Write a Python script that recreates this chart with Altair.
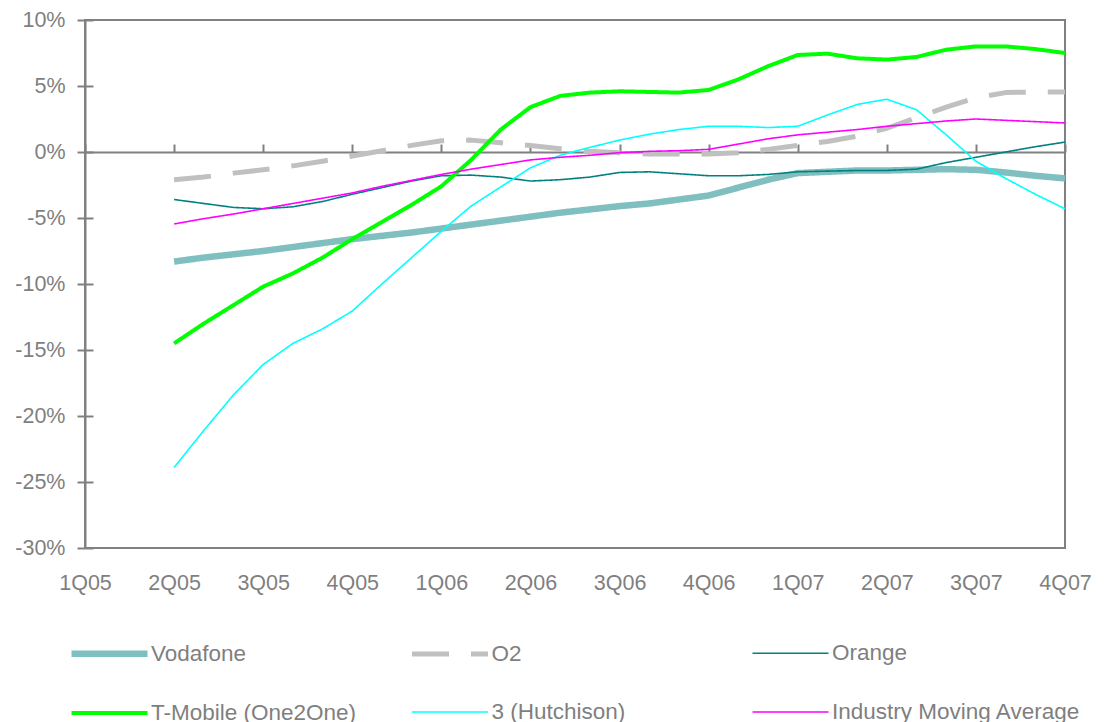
import altair as alt
import pandas as pd

# ---- data ----
quarter_labels = ["1Q05", "2Q05", "3Q05", "4Q05", "1Q06", "2Q06",
                  "3Q06", "4Q06", "1Q07", "2Q07", "3Q07", "4Q07"]

months = list(range(3, 34))  # month index, 0 = 1Q05

vodafone = [-8.3, -8.0, -7.75, -7.5, -7.2, -6.9, -6.6, -6.35, -6.1, -5.8,
            -5.5, -5.2, -4.9, -4.6, -4.35, -4.1, -3.9, -3.6, -3.3, -2.7,
            -2.1, -1.6, -1.5, -1.4, -1.4, -1.35, -1.3, -1.35, -1.55, -1.8, -2.0]

o2 = [-2.1, -1.9, -1.6, -1.35, -1.05, -0.7, -0.3, 0.1, 0.5, 0.85,
      0.9, 0.7, 0.5, 0.25, 0.05, -0.05, -0.15, -0.15, -0.15, -0.05,
      0.2, 0.5, 0.8, 1.2, 1.8, 2.6, 3.4, 4.1, 4.5, 4.55, 4.55]

orange = [-3.6, -3.9, -4.2, -4.3, -4.15, -3.75, -3.2, -2.7, -2.2, -1.8,
          -1.75, -1.9, -2.2, -2.1, -1.9, -1.55, -1.5, -1.65, -1.8, -1.8,
          -1.7, -1.5, -1.45, -1.4, -1.4, -1.3, -0.8, -0.4, 0.0, 0.4, 0.75]

tmobile = [-14.5, -13.0, -11.6, -10.2, -9.2, -8.0, -6.6, -5.3, -4.0, -2.6,
           -0.6, 1.7, 3.4, 4.25, 4.5, 4.6, 4.55, 4.5, 4.7, 5.5,
           6.5, 7.35, 7.45, 7.1, 7.0, 7.2, 7.75, 8.0, 8.0, 7.8, 7.5]

three = [-23.9, -21.1, -18.4, -16.1, -14.5, -13.4, -12.05, -10.0, -8.0, -6.0,
         -4.1, -2.65, -1.2, -0.25, 0.35, 0.9, 1.35, 1.7, 1.95, 1.95,
         1.85, 1.95, 2.8, 3.6, 4.0, 3.2, 1.3, -0.7, -2.0, -3.2, -4.3]

industry = [-5.45, -5.05, -4.7, -4.3, -3.9, -3.5, -3.1, -2.6, -2.15, -1.7,
            -1.3, -0.95, -0.6, -0.4, -0.25, -0.05, 0.05, 0.1, 0.2, 0.6,
            1.0, 1.3, 1.5, 1.7, 1.95, 2.15, 2.35, 2.5, 2.4, 2.3, 2.2]

series_names = ["Vodafone", "O2", "Orange", "T-Mobile (One2One)",
                "3 (Hutchison)", "Industry Moving Average"]
series_values = [vodafone, o2, orange, tmobile, three, industry]

# ---- styles ----
colors = ["#7FBFBF", "#C0C0C0", "#008080", "#00FF00", "#00FFFF", "#FF00FF"]
widths = [6.5, 5, 1.6, 4, 1.6, 1.6]
dashes = [[1, 0], [37, 22], [1, 0], [1, 0], [1, 0], [1, 0]]

rows = []
for name, vals in zip(series_names, series_values):
    for m, v in zip(months, vals):
        rows.append({"series": name, "month": m, "value": v})
df = pd.DataFrame(rows)

GRAY = "#808080"
TEXT = "#7F7F7F"
FONT = "Liberation Sans"
W, H = 980, 528

label_arr = "[" + ",".join("'%s'" % q for q in quarter_labels) + "]"
tick_vals = list(range(0, 34, 3))
y_vals = list(range(-30, 11, 5))

xs = alt.Scale(domain=[0, 33], nice=False, zero=False)
ys = alt.Scale(domain=[-30, 10], nice=False)

legend = alt.Legend(
    title=None, orient="none", legendX=-17, legendY=592, columns=3,
    direction="horizontal", symbolType="stroke", symbolSize=76 * 76,
    labelFont=FONT, labelFontSize=22.5, labelColor=TEXT, labelOffset=0,
    columnPadding=1.5, rowPadding=6, gridAlign="all", padding=0,
    labelLimit=400, symbolOffset=0,
)

lines = alt.Chart(df).mark_line(strokeCap="butt", strokeJoin="round").encode(
    x=alt.X("month:Q", scale=xs, axis=alt.Axis(
        orient="bottom", values=tick_vals,
        labelExpr=label_arr + "[round(datum.value/3)]",
        domain=False, ticks=False, grid=False, labelPadding=24,
        labelFlush=False, labelOverlap=False, labelBound=False,
        labelFont=FONT, labelFontSize=21.5, labelColor=TEXT, title=None)),
    y=alt.Y("value:Q", scale=ys, axis=alt.Axis(
        orient="left", values=y_vals, labelExpr="datum.value + '%'",
        grid=False, domainColor=GRAY, domainWidth=2, tickColor=GRAY,
        tickWidth=2, tickSize=8, labelPadding=12, labelFont=FONT,
        labelFontSize=21.5, labelColor=TEXT, title=None)),
    color=alt.Color("series:N", scale=alt.Scale(domain=series_names, range=colors),
                    legend=legend),
    strokeWidth=alt.StrokeWidth("series:N",
                                scale=alt.Scale(type="ordinal", domain=series_names, range=widths),
                                legend=legend),
    strokeDash=alt.StrokeDash("series:N", scale=alt.Scale(domain=series_names, range=dashes),
                              legend=legend),
    order=alt.Order("month:Q"),
)

axes_layer = alt.Chart(df).mark_point(opacity=0).encode(
    x=alt.X("month:Q", scale=xs, axis=alt.Axis(
        orient="top", offset=-132, values=tick_vals, labels=False,
        domainColor=GRAY, domainWidth=2, tickColor=GRAY, tickWidth=2,
        tickSize=8, grid=False, title=None)),
    y=alt.Y("value:Q", scale=ys, axis=alt.Axis(
        orient="right", offset=-W, values=y_vals, labels=False, domain=False,
        tickColor=GRAY, tickWidth=2, tickSize=8, grid=False, title=None)),
)

chart = alt.layer(axes_layer, lines).resolve_axis(
    x="independent", y="independent"
).properties(
    width=W, height=H,
    autosize=alt.AutoSizeParams(type="none"),
    padding={"left": 77, "top": 12, "right": 36, "bottom": 174},
    background="white",
).configure_view(stroke=GRAY, strokeWidth=2)

chart.save("out.html", embed_options={"renderer": "svg", "actions": False})
